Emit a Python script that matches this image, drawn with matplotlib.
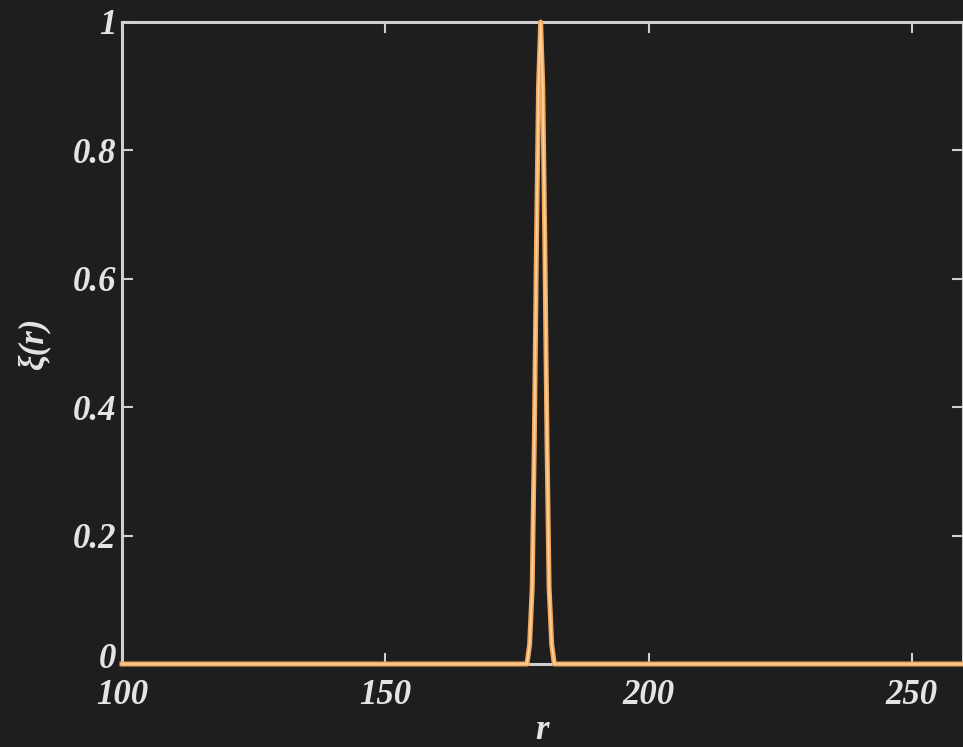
import matplotlib
matplotlib.use("Agg")
import matplotlib.pyplot as plt
from matplotlib.transforms import ScaledTranslation

# Data
r_vals = [100, 176.9, 177.4, 177.9, 178.3, 178.7, 179.1, 179.5, 179.9, 180.3, 180.7, 181.1, 181.6, 182.1, 260]
xi_vals = [0, 0, 0.03, 0.12, 0.35, 0.65, 0.9, 1.0, 0.9, 0.65, 0.35, 0.12, 0.03, 0, 0]
x_ticks = [100, 150, 200, 250]
x_tick_labels = ["100", "150", "200", "250"]
y_ticks = [0, 0.2, 0.4, 0.6, 0.8, 1]
y_tick_labels = ["0", "0.2", "0.4", "0.6", "0.8", "1"]

bg = "#1e1e1e"
fg = "#e4e4e4"
orange = "#f2a85c"

fig = plt.figure(figsize=(9.63, 7.47), dpi=100, facecolor=bg)
ax = fig.add_axes([122 / 963, 83 / 747, 1 - 122 / 963, (664 - 22) / 747])
ax.set_facecolor(bg)

ax.plot(r_vals, xi_vals, color=orange, lw=3.6, solid_joinstyle="round", zorder=3, clip_on=False)
ax.plot(r_vals, xi_vals, color="#ffd2a0", lw=1.2, solid_joinstyle="round", zorder=4, clip_on=False)

ax.set_xlim(100, 259.7)
ax.set_ylim(0, 1)

for s in ax.spines.values():
    s.set_color("#cfcfcf")
    s.set_linewidth(2.2)
    s.set_zorder(2)

fam = ["Liberation Serif", "DejaVu Serif"]
font = dict(family=fam, style="italic", weight="bold", size=25)
ax.set_xticks(x_ticks)
ax.set_xticklabels(x_tick_labels, fontdict=font, color=fg)
ax.set_yticks(y_ticks)
ax.set_yticklabels(y_tick_labels, fontdict=font, color=fg)
ax.tick_params(axis="both", direction="in", length=8, width=1.5, color="#cfcfcf",
               top=True, right=True)
ax.tick_params(axis="x", pad=11)
ax.tick_params(axis="y", pad=4)

# the "0" label sits slightly above its tick in the reference
lbl0 = ax.yaxis.get_major_ticks()[0].label1
lbl0.set_transform(lbl0.get_transform() + ScaledTranslation(0, 8 / 100, fig.dpi_scale_trans))

ax.set_xlabel("r", fontdict=dict(family=fam, style="italic", weight="bold", size=25),
              color=fg, labelpad=1)
ax.set_ylabel("ξ(r)", fontdict=dict(family=fam, style="italic", weight="bold", size=25),
              color=fg, labelpad=16)

fig.savefig("out.png", dpi=100, facecolor=bg)
